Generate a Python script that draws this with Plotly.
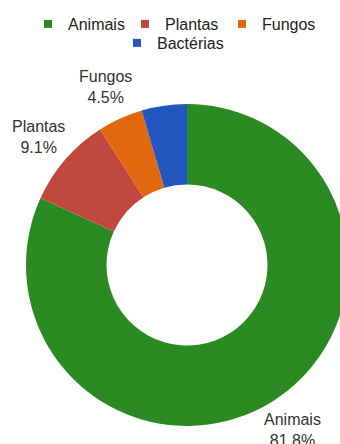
import numpy as np
import plotly.graph_objects as go

labels = ["Animais", "Plantas", "Fungos", "Bactérias"]
values = [18, 2, 1, 1]
colors = ["#2b8a21", "#c0473d", "#e1680f", "#2356bf"]
show_label = [True, True, True, False]
legend_row = ["legend", "legend", "legend", "legend2"]

FONT = "Liberation Sans, Arial, sans-serif"
W, H = 360, 444
cx, cy, r = 187, 265, 161
R = 196

fig = go.Figure()
fig.add_trace(go.Pie(
    labels=labels, values=values, sort=False, direction="clockwise", rotation=0,
    hole=0.5, marker=dict(colors=colors), textinfo="none", hoverinfo="label+percent",
    showlegend=False,
    domain=dict(x=[(cx - r) / W, (cx + r) / W], y=[(H - cy - r) / H, (H - cy + r) / H]),
))

# legend entries (two centred rows, as in the reference)
for lab, col, lg in zip(labels, colors, legend_row):
    fig.add_trace(go.Scatter(
        x=[None], y=[None], mode="markers", name=lab, legend=lg,
        marker=dict(symbol="square", size=8, color=col), hoverinfo="skip",
    ))

vals = np.array(values, dtype=float)
frac = vals / vals.sum()
mid = (np.cumsum(frac) - frac / 2) * 2 * np.pi
annotations = []
for lab, f, a, s in zip(labels, frac, mid, show_label):
    if not s:
        continue
    px = cx + R * np.sin(a)
    py = cy - R * np.cos(a)
    annotations.append(dict(
        x=px / W, y=(H - py) / H, xref="paper", yref="paper",
        text=f"{lab}<br>{f*100:.1f}%", showarrow=False,
        font=dict(size=16, color="#333333", family=FONT),
        xanchor="center", yanchor="middle",
    ))

legfont = dict(size=16, color="#222222", family=FONT)
fig.update_layout(
    width=W, height=H,
    margin=dict(l=0, r=0, t=0, b=0),
    paper_bgcolor="white", plot_bgcolor="white",
    font=dict(family=FONT, size=16, color="#222222"),
    xaxis=dict(visible=False), yaxis=dict(visible=False),
    showlegend=True,
    legend=dict(orientation="h", x=28 / W, xanchor="left", y=1 - 7 / H, yanchor="top",
                font=legfont, itemwidth=30, entrywidth=52, traceorder="normal",
                bgcolor="rgba(0,0,0,0)"),
    legend2=dict(orientation="h", x=117 / W, xanchor="left", y=1 - 26 / H, yanchor="top",
                 font=legfont, itemwidth=30, bgcolor="rgba(0,0,0,0)"),
    annotations=annotations,
)

fig.write_html("out.html")
